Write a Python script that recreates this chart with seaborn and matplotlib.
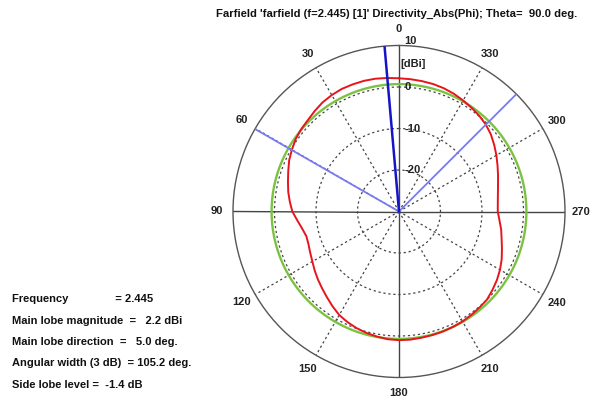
import numpy as np
import pandas as pd
import seaborn as sns
import matplotlib
matplotlib.use("Agg")
import matplotlib.pyplot as plt

# ---------------- data ----------------
phi_deg = list(range(0, 365, 5))
directivity_dbi = [2.1, 2.3, 2.5, 2.6, 2.6, 2.6, 2.4, 2.1, 1.6, 1.1,
                   0.8, 0.4, -0.2, -0.8, -1.6, -2.3, -2.9, -3.6, -4.3, -5.4,
                   -6.3, -6.9, -6.8, -6.4, -5.9, -5.2, -4.5, -3.8, -3.0, -2.1,
                   -1.2, -0.6, -0.1, 0.3, 0.6, 0.9, 1.0, 1.0, 0.9, 0.85,
                   0.8, 0.7, 0.6, 0.4, 0.2, 0.0, -0.6, -1.2, -1.9, -2.7,
                   -3.6, -4.4, -5.0, -5.7, -6.2, -6.1, -5.8, -5.3, -4.6, -3.8,
                   -2.9, -2.0, -1.1, -0.4, 0.1, 0.5, 0.9, 1.3, 1.6, 1.8,
                   1.9, 2.0, 2.1]
ref_circle_dbi = 0.7          # green reference circle
main_lobe_dir_deg = 5.0       # dark blue line
width_edges_deg = [60.2, 315.0]  # light blue 3 dB width lines

r_min, r_max = -30, 10
ring_levels = [-20, -10, 0]
radial_labels = ["-20", "-10", "0", "10"]
radial_label_levels = [-20, -10, 0, 10]
angle_ticks = [0, 30, 60, 90, 120, 150, 180, 210, 240, 270, 300, 330]

title = "Farfield 'farfield (f=2.445) [1]' Directivity_Abs(Phi); Theta=  90.0 deg."
info_lines = [
    "Frequency               = 2.445",
    "Main lobe magnitude  =   2.2 dBi",
    "Main lobe direction  =   5.0 deg.",
    "Angular width (3 dB)  = 105.2 deg.",
    "Side lobe level =  -1.4 dB",
]

# ---------------- styling ----------------
sns.set_style("white")
plt.rcParams['font.family'] = ['Liberation Sans', 'DejaVu Sans']

W, H = 591, 403
fig = plt.figure(figsize=(W / 100, H / 100), dpi=100)
cx, cy, R = 399, 211.5, 166
ax = fig.add_axes([(cx - R) / W, (H - cy - R) / H, 2 * R / W, 2 * R / H],
                  projection='polar')
ax.set_theta_zero_location('N')
ax.set_theta_direction(1)
ax.set_rlim(r_min, r_max)
ax.grid(False)
ax.set_xticks([])
ax.set_yticks([])
ax.spines['polar'].set_color('#555555')
ax.spines['polar'].set_linewidth(1.0)
ax.set_facecolor('white')

# dotted rings
th = np.linspace(0, 2 * np.pi, 361)
for lv in ring_levels:
    ax.plot(th, np.full_like(th, lv), ls=(0, (1.8, 2.2)), color='#444444', lw=0.9, zorder=1)

# spokes
for a in angle_ticks:
    t = np.deg2rad(a)
    if a % 90 == 0:
        ax.plot([t, t], [r_min, r_max], color='#444444', lw=1.0, zorder=1)
    else:
        ax.plot([t, t], [r_min, r_max], ls=(0, (1.8, 2.2)), color='#444444', lw=0.9, zorder=1)

# green reference circle
df_ref = pd.DataFrame({"theta": th, "r": np.full_like(th, ref_circle_dbi)})
sns.lineplot(data=df_ref, x="theta", y="r", sort=False, ax=ax, color='#7cc242', lw=1.7, zorder=3)

# red directivity curve
df = pd.DataFrame({"theta": np.deg2rad(phi_deg), "r": directivity_dbi})
sns.lineplot(data=df, x="theta", y="r", sort=False, ax=ax, color='#e8141c', lw=1.4, zorder=4)

# blue lines
for e in width_edges_deg:
    t = np.deg2rad(e)
    ax.plot([t, t], [r_min, r_max], color='#7a7af2', lw=1.3, zorder=5)
t = np.deg2rad(main_lobe_dir_deg)
ax.plot([t, t], [r_min, r_max], color='#1414c8', lw=1.8, zorder=6)

ax.set_xlabel("")
ax.set_ylabel("")
ax.set_rlim(r_min, r_max)

# angle labels
r_lab = r_min + (r_max - r_min) * 182 / R
for a in angle_ticks:
    ax.text(np.deg2rad(a), r_lab, str(a), ha='center', va='center',
            fontsize=8, fontweight='bold', color='#222222')

# radial labels
for lv, lab in zip(radial_label_levels, radial_labels):
    dy = 3 if lv == 10 else 0
    ax.annotate(lab, xy=(0, lv), xytext=(4, dy), textcoords='offset points',
                ha='left', va='center', fontsize=8, fontweight='bold', color='#222222')
ax.annotate("[dBi]", xy=(0, r_max), xytext=(1, -13), textcoords='offset points',
            ha='left', va='center', fontsize=8, fontweight='bold', color='#222222')

fig.text(397 / W, 1 - 14 / H, title, ha='center', va='center', fontsize=8.1,
         fontweight='bold', color='#111111')

for i, line in enumerate(info_lines):
    y = 299 + i * 21.5
    fig.text(12 / W, 1 - y / H, line, ha='left', va='center', fontsize=8,
             fontweight='bold', color='#111111')

fig.savefig("out.png", dpi=100)
